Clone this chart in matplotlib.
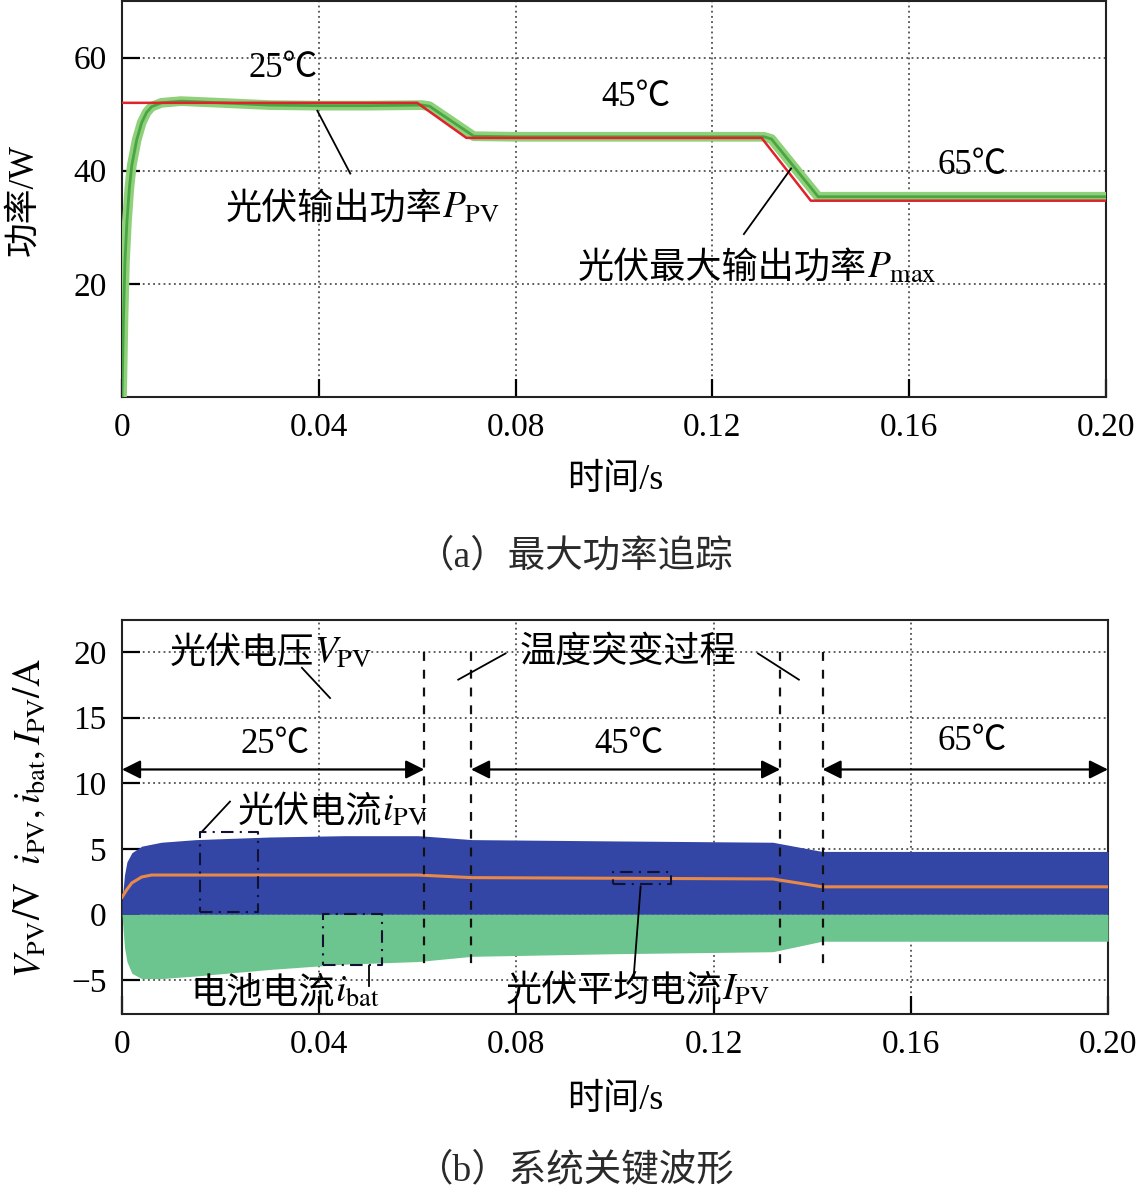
import numpy as np
import matplotlib
matplotlib.use("Agg")
import matplotlib.pyplot as plt
from matplotlib.transforms import offset_copy

plt.rcParams['font.family'] = ['Liberation Serif', 'Noto Sans CJK SC', 'DejaVu Sans']
plt.rcParams['mathtext.fontset'] = 'stix'
plt.rcParams['axes.unicode_minus'] = True

# ---------------- data (a) ----------------
t_pmax = [0.0, 0.06, 0.07, 0.13, 0.14, 0.20]
p_max = [52.0, 52.0, 45.8, 45.8, 34.7, 34.7]

t_ppv = [0.0, 0.0003, 0.0006, 0.001, 0.0015, 0.002, 0.003, 0.004, 0.005, 0.006,
         0.008, 0.012, 0.02, 0.03, 0.04, 0.05, 0.061, 0.0625, 0.0715, 0.08,
         0.10, 0.1305, 0.132, 0.1415, 0.16, 0.20]
p_pv = [0.0, 14.0, 24.0, 31.0, 37.0, 41.0, 45.5, 48.5, 50.3, 51.3,
        52.0, 52.3, 52.0, 51.6, 51.5, 51.5, 51.6, 51.4, 46.1, 46.0,
        46.0, 46.0, 45.6, 35.4, 35.4, 35.4]

# ---------------- data (b) ----------------
t_ipv_up = [0.0, 0.0005, 0.001, 0.002, 0.004, 0.008, 0.015, 0.03, 0.045, 0.06,
            0.062, 0.071, 0.10, 0.132, 0.142, 0.20]
ipv_up = [1.0, 3.0, 4.0, 4.7, 5.2, 5.5, 5.7, 5.9, 6.0, 6.0,
          5.95, 5.7, 5.6, 5.5, 4.8, 4.8]

t_ibat_lo = [0.0, 0.0005, 0.001, 0.002, 0.004, 0.008, 0.015, 0.03, 0.045, 0.06,
             0.071, 0.10, 0.132, 0.142, 0.20]
ibat_lo = [0.0, -2.5, -3.6, -4.5, -4.9, -4.9, -4.7, -4.2, -3.8, -3.6,
           -3.2, -3.0, -2.85, -2.05, -2.05]

t_iavg = [0.0, 0.001, 0.002, 0.004, 0.006, 0.06, 0.071, 0.132, 0.142, 0.20]
i_avg = [1.3, 1.9, 2.4, 2.85, 3.0, 3.0, 2.8, 2.7, 2.1, 2.1]

t_switch = [0.0613, 0.0708, 0.1335, 0.1421]
temp_labels = ['25℃', '45℃', '65℃']

xticks = [0, 0.04, 0.08, 0.12, 0.16, 0.20]
xtick_labels = ['0', '0.04', '0.08', '0.12', '0.16', '0.20']
yticks_a = [20, 40, 60]
yticks_b = [-5, 0, 5, 10, 15, 20]
ytick_labels_b = ['\u22125', '0', '5', '10', '15', '20']

W, H = 1140, 1194
fig = plt.figure(figsize=(W / 100, H / 100), dpi=100)
renderer = fig.canvas.get_renderer()

def px_axes(l, t, r, b):
    return fig.add_axes([l / W, 1 - b / H, (r - l) / W, (b - t) / H])

FS_TICK = 24
FS_TXT = 26

def style(ax):
    ax.tick_params(direction='in', length=13, width=1.6, labelsize=FS_TICK,
                   pad=11, top=False, right=False)
    ax.grid(True, linestyle=(0, (1.2, 2.2)), color='#333333', linewidth=1.1)
    for s in ax.spines.values():
        s.set_linewidth(1.5)
        s.set_color('#222222')
    ax.set_xlim(0, 0.2)
    ax.set_xticks(xticks)
    ax.set_xticklabels(xtick_labels)

def mixed_label(ax, x, y, cjk, math):
    t1 = ax.text(x, y, cjk, fontsize=FS_TXT, ha='left', va='baseline', zorder=7)
    w = t1.get_window_extent(renderer).width
    ax.text(x, y, math, fontsize=FS_TXT + 1, ha='left', va='baseline', zorder=7,
            transform=offset_copy(ax.transData, fig=fig, x=w, y=0, units='dots'))

# ================= (a) =================
ax1 = px_axes(122, 1, 1106, 397)
style(ax1)
ax1.set_ylim(0, 70)
ax1.set_yticks(yticks_a)
ax1.plot(t_ppv, p_pv, color='#8fd07a', lw=7, solid_capstyle='butt', zorder=3)
ax1.plot(t_ppv, p_pv, color='#4aa543', lw=2.0, zorder=4)
ax1.plot(t_pmax, p_max, color='#e0222a', lw=1.8, zorder=5)

ax1.text(0.0328, 58.0, '25℃', fontsize=FS_TXT - 1, ha='center', va='center', zorder=6)
ax1.text(0.1044, 52.9, '45℃', fontsize=FS_TXT - 1, ha='center', va='center', zorder=6)
ax1.text(0.1728, 40.9, '65℃', fontsize=FS_TXT - 1, ha='center', va='center', zorder=6)
mixed_label(ax1, 0.021, 31.6, '光伏输出功率', '$P_{\\rm PV}$')
ax1.plot([0.0397, 0.0464], [50.6, 39.5], color='k', lw=1.3, zorder=6)
mixed_label(ax1, 0.0926, 21.1, '光伏最大输出功率', '$P_{\\rm max}$')
ax1.plot([0.136, 0.1264], [40.4, 28.8], color='k', lw=1.3, zorder=6)

fig.text(615 / W, 1 - 480 / H, '时间/s', fontsize=26, ha='center', va='center')
fig.text(24 / W, 1 - 200 / H, '功率/W', fontsize=25, ha='center', va='center', rotation=90)
fig.text(575 / W, 1 - 557 / H, '（a）最大功率追踪', fontsize=27, ha='center', va='center',
         color='#2a2a2a')

# ================= (b) =================
ax2 = px_axes(122, 620, 1108, 1014)
style(ax2)
ax2.set_ylim(-7.6, 22.45)
ax2.set_yticks(yticks_b)
ax2.set_yticklabels(ytick_labels_b)
ax2.fill_between(t_ipv_up, 0, ipv_up, color='#3346a6', lw=0, zorder=3)
ax2.fill_between(t_ibat_lo, ibat_lo, 0, color='#6cc48e', lw=0, zorder=3)
ax2.plot(t_iavg, i_avg, color='#e8894a', lw=2.2, zorder=4)

for xs in t_switch:
    ax2.plot([xs, xs], [20.0, -4.2], color='#111111', lw=1.6, linestyle=(0, (4, 4)), zorder=5)

arrow_y = 11.05
spans = [(0.0, t_switch[0]), (t_switch[1], t_switch[2]), (t_switch[3], 0.2)]
label_pos = [(0.0311, 12.96), (0.1029, 12.96), (0.1724, 13.2)]
for (a, b), lab, (lx, ly) in zip(spans, temp_labels, label_pos):
    ax2.annotate('', xy=(a, arrow_y), xytext=(b, arrow_y),
                 arrowprops=dict(arrowstyle='<|-|>', color='k', lw=1.6,
                                 shrinkA=0, shrinkB=0, mutation_scale=28), zorder=6)
    ax2.text(lx, ly, lab, fontsize=FS_TXT - 1, ha='center', va='center', zorder=6)

mixed_label(ax2, 0.0097, 19.2, '光伏电压', '$V_{\\rm PV}$')
ax2.plot([0.0365, 0.0422], [18.8, 16.5], color='k', lw=1.3, zorder=6)
ax2.text(0.1027, 19.9, '温度突变过程', fontsize=FS_TXT, ha='center', va='center', zorder=6)
ax2.plot([0.0778, 0.0682], [19.9, 17.9], color='k', lw=1.3, zorder=6)
ax2.plot([0.1290, 0.1373], [19.9, 17.9], color='k', lw=1.3, zorder=6)

mixed_label(ax2, 0.0234, 7.1, '光伏电流', '$i_{\\rm PV}$')
ax2.plot([0.0162, 0.0219], [6.3, 8.6], color='k', lw=1.3, zorder=6)
mixed_label(ax2, 0.0138, -6.7, '电池电流', '$i_{\\rm bat}$')
ax2.plot([0.0500, 0.0500], [-3.95, -5.5], color='k', lw=1.3, zorder=6)
mixed_label(ax2, 0.0778, -6.55, '光伏平均电流', '$I_{\\rm PV}$')
ax2.plot([0.1052, 0.1038], [2.13, -4.7], color='k', lw=1.3, zorder=6)

boxes = [(0.0158, 0.0276, 0.15, 6.3), (0.0408, 0.0528, -3.9, 0.0), (0.0995, 0.1113, 2.29, 3.2)]
for x0, x1, y0, y1 in boxes:
    ax2.plot([x0, x1, x1, x0, x0], [y0, y0, y1, y1, y0], color='#111133', lw=1.5,
             linestyle=(0, (6, 3, 1, 3)), zorder=6)

fig.text(615 / W, 1 - 1100 / H, '时间/s', fontsize=26, ha='center', va='center')
fig.text(30 / W, 1 - 818 / H,
         '$V_{\\rm PV}/{\\rm V}\\ \\ i_{\\rm PV},i_{\\rm bat},I_{\\rm PV}/{\\rm A}$',
         fontsize=27, ha='center', va='center', rotation=90)
fig.text(575 / W, 1 - 1170 / H, '（b）系统关键波形', fontsize=27, ha='center', va='center',
         color='#2a2a2a')

fig.savefig('out.png', dpi=100, facecolor='white')
